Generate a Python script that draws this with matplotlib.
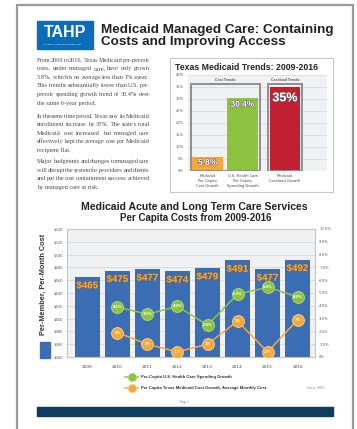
import numpy as np
import matplotlib
matplotlib.use('Agg')
import matplotlib.pyplot as plt
import matplotlib.patheffects as pe
from matplotlib.patches import Rectangle

W, H = 357, 429

# --- data: Texas Medicaid Trends 2009-2016 (top chart)
trend_labels = ['Medicaid\nPer Capita\nCost Growth',
                'U.S. Health Care\nPer Capita\nSpending Growth',
                'Medicaid\nCaseload Growth']
trend_values = [5.8, 30.4, 35]
trend_text = ['5.8%', '30.4%', '35%']
trend_pos = [0, 1, 2.21]

# --- data: per capita costs (main chart)
years = ['2009', '2010', '2011', '2012', '2013', '2014', '2015', '2016']
pmpm = [465, 475, 477, 474, 479, 491, 477, 492]
# marker heights as drawn in the picture, with their printed labels
us_growth = [3.9, 3.35, 3.95, 2.5, 4.9, 5.45, 4.7]
us_labels = ['4.1%', '3.5%', '4.0%', '2.9%', '5.3%', '5.8%', '4.8%']
tx_growth = [1.9, 1.0, 0.4, 1.0, 2.8, 0.4, 2.9]
tx_labels = ['2%', '1%', '-1%', '1%', '3%', '-3%', '3%']

body = [
    ['From 2009 to 2016, Texas Medicaid per-person',
     'costs, under managed care, have only grown',
     '5.8%, which is on average less than 1% a year.',
     'This trend is substantially lower than U.S. per-',
     'person spending growth trend of 30.4% over',
     'the same 6-year period.'],
    ['In the same time period, Texas saw its Medicaid',
     'enrollment increase by 35%. The state\'s total',
     'Medicaid cost increased but managed care',
     'effectively kept the average cost per Medicaid',
     'recipient flat.'],
    ['Major budget cuts and changes to managed care',
     'will disrupt the system for providers and clients',
     'and put the cost containment success achieved',
     'by managed care at risk.'],
]

BLUE = '#3b6db4'
ORANGE = '#f8a83b'
GREEN = '#8cc43f'
RED = '#c21f32'
SANS = ['Liberation Sans', 'DejaVu Sans']
NARROW = ['Liberation Sans Narrow', 'Liberation Sans', 'DejaVu Sans']
SERIF = ['Liberation Serif', 'DejaVu Serif']


def rect(l, t, r, b):
    return [l / W, 1 - b / H, (r - l) / W, (b - t) / H]


fig = plt.figure(figsize=(W / 100, H / 100), dpi=100)
page = fig.add_axes([0, 0, 1, 1], zorder=0)
page.set_xlim(0, W)
page.set_ylim(H, 0)
page.axis('off')

# page frame
page.plot([17, 17, 353, 353], [429, 5, 5, 429], color='#9a9a9a', lw=1.6,
          solid_joinstyle='miter')

# header
page.add_patch(Rectangle((37, 21), 56, 28, color='#0b6cb7'))
page.text(65.5, 32.5, 'TAHP', color='white', fontsize=11.5, weight='bold',
          family=SANS, ha='center', va='center')
page.text(43, 44, 'The Texas Association of Health Plans', color='white',
          fontsize=1.6, family=SANS, ha='left', va='center')
page.text(101, 30.5, 'Medicaid Managed Care: Containing', color='#222222',
          fontsize=9.7, weight='bold', family=SANS, ha='left', va='center')
page.text(101, 42, 'Costs and Improving Access', color='#222222',
          fontsize=9.7, weight='bold', family=SANS, ha='left', va='center')

# justified body text
renderer = fig.canvas.get_renderer()
x0, x1 = 37, 149.5
para_y = [61.6, 117.6, 163.1]
dy = 8.6
for para, y in zip(body, para_y):
    for i, line in enumerate(para):
        yy = y + i * dy
        words = line.split()
        if i == len(para) - 1:
            page.text(x0, yy, line, fontsize=4.5, family=SERIF,
                      color='#4a4a4a', ha='left', va='baseline')
            continue
        texts = [page.text(0, yy, w, fontsize=4.5, family=SERIF,
                           color='#4a4a4a', ha='left', va='baseline')
                 for w in words]
        widths = [t.get_window_extent(renderer).width for t in texts]
        gap = (x1 - x0 - sum(widths)) / (len(words) - 1)
        xx = x0
        for t, w in zip(texts, widths):
            t.set_x(xx)
            xx += w + gap

# ---- top chart
page.add_patch(Rectangle((170, 58), 163, 134, fill=False, ec='#c8c8c8', lw=0.8))
page.text(247, 68, 'Texas Medicaid Trends: 2009-2016', fontsize=6.3,
          weight='bold', family=SANS, color='#222222', ha='center', va='center')

tax = fig.add_axes(rect(188, 75, 327, 171), zorder=1)
tax.set_facecolor('#f0f1f3')
tax.bar(trend_pos, trend_values, width=0.87,
        color=[ORANGE, GREEN, RED], zorder=2)
tax.set_xlim(-0.56, 3.41)
tax.set_ylim(0, 40)
tax.set_yticks(np.arange(0, 41, 5))
tax.set_yticklabels(['%d%%' % v for v in np.arange(0, 41, 5)])
tax.grid(axis='y', color='#d6d8dc', lw=0.5)
tax.set_axisbelow(True)
tax.tick_params(axis='y', length=0, labelsize=2.6, labelcolor='#555555', pad=3)
tax.set_xticks(trend_pos)
tax.set_xticklabels(trend_labels)
tax.tick_params(axis='x', length=0, labelsize=2.6, labelcolor='#444444', pad=2.5)
for s in tax.spines.values():
    s.set_visible(False)

# group boxes (double line look)
for (bx, bw) in [(-0.47, 1.97), (1.73, 0.97)]:
    tax.add_patch(Rectangle((bx, 0), bw, 36.3, fill=False, ec='#7c7c7c',
                            lw=1.4, zorder=3))
    tax.add_patch(Rectangle((bx, 0), bw, 36.3, fill=False, ec='#d8d8d8',
                            lw=0.3, zorder=3))
tax.text(0.5, 37.9, 'Cost Trends', fontsize=2.5, weight='bold', color='#555555',
         family=SANS, ha='center', va='center')
tax.text(2.215, 37.9, 'Caseload Trends', fontsize=2.5, weight='bold',
         color='#555555', family=SANS, ha='center', va='center')

stroke = [pe.withStroke(linewidth=0.8, foreground='#666666')]
tax.text(trend_pos[0], 3.2, trend_text[0], fontsize=6, weight='bold',
         color='white', family=NARROW, ha='center', va='center',
         path_effects=stroke, zorder=4)
tax.text(trend_pos[1], 27.4, trend_text[1], fontsize=6, weight='bold',
         color='white', family=NARROW, ha='center', va='center',
         path_effects=stroke, zorder=4)
tax.text(trend_pos[2], 30.3, trend_text[2], fontsize=9, weight='bold',
         color='white', family=NARROW, ha='center', va='center',
         path_effects=stroke, zorder=4)

# ---- main chart
page.text(194, 207, 'Medicaid Acute and Long Term Care Services', fontsize=7.6,
          weight='bold', family=SANS, color='#222222', ha='center', va='center')
page.text(195.5, 218, 'Per Capita Costs from 2009-2016', fontsize=7,
          weight='bold', family=SANS, color='#222222', ha='center', va='center')

ax = fig.add_axes(rect(67, 229, 315, 357), zorder=1)
ax.set_facecolor('#f0f1f3')
x = np.arange(len(years))
ax.bar(x, pmpm, width=0.83, color=BLUE, zorder=2)
ax.set_ylim(340, 540)
ax.set_xlim(-0.68, 7.58)
ax.set_yticks(np.arange(340, 541, 20))
ax.set_yticklabels(['$%d' % v for v in np.arange(340, 541, 20)])
ax.grid(axis='y', color='#d2d4d8', lw=0.5)
ax.set_axisbelow(True)
ax.set_xticks(x)
ax.set_xticklabels(years)
ax.tick_params(axis='y', length=0, labelsize=2.7, labelcolor='#555555', pad=3)
ax.tick_params(axis='x', length=0, labelsize=3.1, labelcolor='#444444', pad=6)
for s in ax.spines.values():
    s.set_color('#c4c4c4')
    s.set_linewidth(0.8)

for xi, v in zip(x, pmpm):
    ax.text(xi, v - 13, '$%d' % v, fontsize=7, weight='bold', color=ORANGE,
            family=NARROW, ha='center', va='center', zorder=4,
            path_effects=[pe.withStroke(linewidth=0.5, foreground='#8a5b16')])

ax2 = ax.twinx()
ax2.set_ylim(0, 10)
ax2.set_yticks(np.arange(0, 11, 1))
ax2.set_yticklabels(['%.1f%%' % v if v else '0%' for v in np.arange(0, 11, 1)])
ax2.tick_params(axis='y', length=0, labelsize=2.7, labelcolor='#555555', pad=3)
for s in ax2.spines.values():
    s.set_visible(False)

xl = x[1:]
ax2.plot(xl, us_growth, color=GREEN, lw=1.1, marker='o', ms=8.6,
         mfc=GREEN, mec='#b5dc7d', mew=0.6, zorder=3)
ax2.plot(xl, tx_growth, color=ORANGE, lw=1.1, marker='o', ms=8.6,
         mfc=ORANGE, mec='#fcd08c', mew=0.6, zorder=3)
for xi, v, s in zip(xl, us_growth, us_labels):
    ax2.text(xi, v, s, fontsize=3.1, weight='bold', color='white',
             family=NARROW, ha='center', va='center', zorder=4)
for xi, v, s in zip(xl, tx_growth, tx_labels):
    ax2.text(xi, v, s, fontsize=3.1, weight='bold', color='white',
             family=NARROW, ha='center', va='center', zorder=4)

# annotation
for yy, s in zip([237, 250, 261.5], ['From 2009-2016,',
                                     'PMPM costs have grown only 5.8%,',
                                     'which is less than 1% a year']):
    page.text(150, yy, s, fontsize=6.6, color='#f58b2a', family=NARROW,
              weight='bold', ha='center', va='center', zorder=5)

# y axis title with bar key
page.text(43, 284, 'Per-Member, Per-Month Cost', rotation=90, fontsize=5.3,
          weight='bold', color='#333333', family=SANS, ha='center', va='center')
page.add_patch(Rectangle((40, 342), 10, 16, color=BLUE))

# legend
for yy, col, edge, s in [(377, GREEN, '#b5dc7d', 'Per-Capita U.S. Health Care Spending Growth'),
                         (388, ORANGE, '#fcd08c', 'Per Capita Texas Medicaid Cost Growth, Average Monthly Cost')]:
    page.plot([125, 138], [yy, yy], color=col, lw=1.1)
    page.plot([131.5], [yy], marker='o', ms=6, color=col, mec=edge, mew=0.5)
    page.text(141, yy, s, fontsize=3.1, weight='bold', color='#333333',
              family=SANS, ha='left', va='center')
page.text(307, 388, 'Source: HHSC', fontsize=1.9, color='#888888', family=SANS,
          ha='left', va='center')

# footer
page.text(185, 401.5, 'Page 1', fontsize=2.4, color='#777777', family=SERIF,
          ha='center', va='center')
page.plot([37, 333], [405.5, 405.5], color='#d0d0d0', lw=0.4)
page.add_patch(Rectangle((37, 407), 296, 9, color='#0c3c5f'))

fig.savefig('out.png', dpi=100)
